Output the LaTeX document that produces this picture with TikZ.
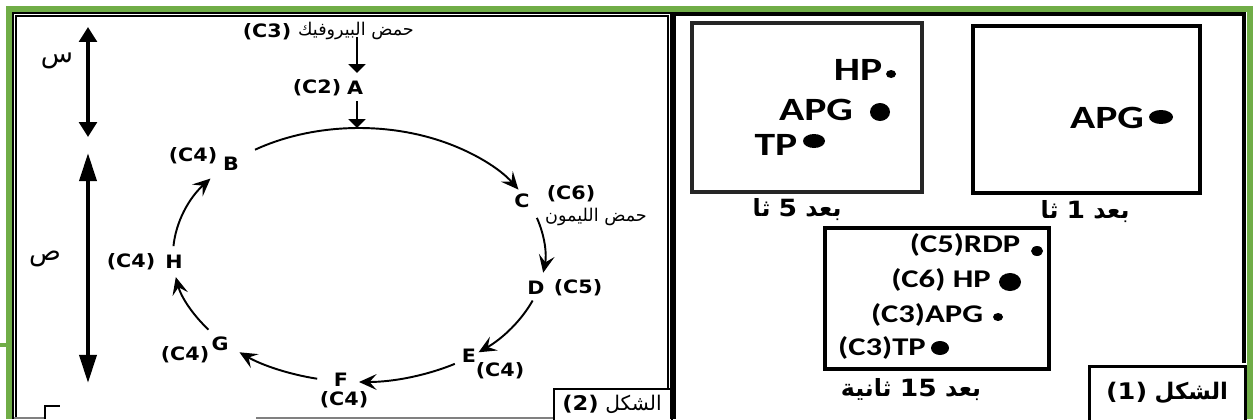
\documentclass[tikz,border=0pt]{standalone}
\usepackage{fontspec}
\usetikzlibrary{arrows.meta}
\TeXXeTstate=1
\newfontfamily\arf[Script=Arabic]{DejaVu Sans}
\newfontfamily\djf[FakeStretch=1.12]{DejaVu Sans}
\newfontfamily\calf[FakeStretch=1.28]{Carlito}
\definecolor{frgreen}{RGB}{112,173,71}
\begin{document}
\begin{tikzpicture}[x=0.02cm,y=-0.02cm,
  lab/.style={font=\djf\bfseries\fontsize{10.5}{12}\selectfont, inner sep=0pt},
  arlab/.style={font=\arf\fontsize{10}{12}\selectfont, inner sep=0pt},
  biglab/.style={font=\arf\fontsize{15}{17}\selectfont, inner sep=0pt},
  spotlab/.style={font=\calf\bfseries\fontsize{18.5}{20}\selectfont, inner sep=0pt},
  spotslab/.style={font=\calf\bfseries\fontsize{14.5}{16}\selectfont, inner sep=0pt},
  caplab/.style={font=\arf\bfseries\fontsize{13.5}{15}\selectfont, inner sep=0pt},
  cyc/.style={line width=1.1pt, -{Stealth[length=10pt,width=9pt,inset=4pt]}},
  sarr/.style={line width=1.5pt, -{Triangle[length=5pt,width=9.5pt]}},
  dbl/.style={line width=2.3pt, {Triangle[length=8.5pt,width=10pt]}-{Triangle[length=8.5pt,width=10pt]}},
  dbll/.style={line width=2.3pt, {Triangle[length=16pt,width=9.6pt]}-{Triangle[length=16pt,width=9.6pt]}},
  rframe/.style={line width=1.8pt},
  blob/.style={fill=black}
]
\useasboundingbox (0,0) rectangle (1256,419);
% green outer frame
\draw[frgreen, line width=3.4pt] (9,419) -- (9,9) -- (1250,9) -- (1250,419);
\draw[frgreen, line width=2pt] (0,345) -- (10,345);
% left panel double frame
\draw[line width=0.6pt] (13,419) -- (13,13) -- (671,13) -- (671,419);
\draw[line width=0.6pt] (16,419) -- (16,16) -- (668,16) -- (668,388);
\draw[gray, line width=0.8pt] (14,418) -- (44,418);
\draw[line width=1.2pt] (45,419) -- (45,406) -- (60,406);
\draw[gray, line width=0.8pt] (256,418) -- (553,418);
% right panel frame
\draw[rframe] (674,419) -- (674,14) -- (1244,14) -- (1244,363);
% figure labels
\node[draw, line width=1.2pt, minimum width=118*0.02cm, minimum height=32*0.02cm, anchor=north west, inner sep=0pt] (fig2) at (553,388) {};
\node[font=\fontsize{11.5}{13}\selectfont, inner sep=0pt] (fig2t) at (612,404) {{\djf\bfseries(2)}~{\arf\beginR الشكل\endR}};
\node[draw, line width=1.8pt, minimum width=156*0.02cm, minimum height=56*0.02cm, anchor=north west, inner sep=0pt] (fig1) at (1088,365) {};
\node[font=\fontsize{13}{15}\selectfont, inner sep=0pt] (fig1t) at (1167,393) {{\djf\bfseries(1)}~{\arf\bfseries\beginR الشكل\endR}};

% ---- Figure 2 ----
\node[biglab] (sin) at (57,61) {\beginR س\endR};
\node[biglab] (sad) at (45,259) {\beginR ص\endR};
\coordinate (s1) at (88,27); \coordinate (s2) at (88,137);
\coordinate (p1) at (88,153); \coordinate (p2) at (88,383);
\draw[dbl] (s1) -- (s2);
\draw[dbll] (p1) -- (p2);

\node[lab] (pyrc) at (267,32) {(C3)};
\node[arlab] (pyr) at (356,31) {\beginR حمض البيروفيك\endR};
\node[lab] (A) at (355,88) {A};
\node[lab] (Ac) at (317,88) {(C2)};
\coordinate (a0) at (357,37); \coordinate (a1) at (357,73);
\coordinate (a2) at (357,101); \coordinate (a3) at (357,128);
\draw[sarr] (a0) -- (a1);
\draw[sarr] (a2) -- (a3);

\node[lab] (B) at (231,164) {B};
\node[lab] (Bc) at (193,156) {(C4)};
\node[lab] (C) at (522,201) {C};
\node[lab] (Cc) at (571,194) {(C6)};
\node[arlab] (cit) at (596,217) {\beginR حمض الليمون\endR};
\node[lab] (D) at (536,288) {D};
\node[lab] (Dc) at (578,288) {(C5)};
\node[lab] (E) at (469,356) {E};
\node[lab] (Ec) at (500,371) {(C4)};
\node[lab] (F) at (341,380) {F};
\node[lab] (Fc) at (344,400) {(C4)};
\node[lab] (G) at (220,344) {G};
\node[lab] (Gc) at (185,355) {(C4)};
\node[lab] (H) at (174,262) {H};
\node[lab] (Hc) at (131,262) {(C4)};

\coordinate (O) at (359,255);
\draw[cyc] (O) ++(-124:186 and 127) arc[start angle=-124, end angle=-31, x radius=186, y radius=127];
\draw[cyc] (O) ++(-17:186 and 127) arc[start angle=-17, end angle=8, x radius=186, y radius=127];
\draw[cyc] (O) ++(21:186 and 127) arc[start angle=21, end angle=50, x radius=186, y radius=127];
\draw[cyc] (O) ++(59:186 and 127) arc[start angle=59, end angle=90, x radius=186, y radius=127];
\draw[cyc] (O) ++(103:186 and 127) arc[start angle=103, end angle=130, x radius=186, y radius=127];
\draw[cyc] (O) ++(144:186 and 127) arc[start angle=144, end angle=170, x radius=186, y radius=127];
\draw[cyc] (O) ++(184:186 and 127) arc[start angle=184, end angle=217, x radius=186, y radius=127];

% ---- Figure 1 ----
\draw[line width=1.8pt, black!85] (692,23) rectangle (922,192);
\node[spotlab] (hp5) at (858,70) {HP};
\fill[blob] (891,74) ellipse [x radius=5, y radius=4];
\node[spotlab] (apg5) at (816,110) {APG};
\fill[blob] (880,112) ellipse [x radius=10, y radius=9];
\node[spotlab] (tp5) at (776,145) {TP};
\fill[blob] (814,141) ellipse [x radius=11, y radius=7];
\node[caplab] (t5) at (797,210) {\beginR بعد {\djf\bfseries 5} ثا\endR};

\draw[line width=1.8pt] (973,26) rectangle (1200,193);
\node[spotlab] (apg1) at (1107,118) {APG};
\fill[blob] (1161,117) ellipse [x radius=12, y radius=7];
\node[caplab] (t1) at (1085,212) {\beginR بعد {\djf\bfseries 1} ثا\endR};

\draw[line width=1.8pt] (825,228) rectangle (1049,369);
\node[spotslab] (rdp) at (965,245) {(C5)RDP};
\fill[blob] (1037,251) ellipse [x radius=6, y radius=5];
\node[spotslab] (hp15) at (941,280) {(C6) HP};
\fill[blob] (1010,282) ellipse [x radius=11, y radius=9];
\node[spotslab] (apg15) at (927,315) {(C3)APG};
\fill[blob] (998,317) ellipse [x radius=5, y radius=4];
\node[spotslab] (tp15) at (882,348) {(C3)TP};
\fill[blob] (940,348) ellipse [x radius=9, y radius=7];
\node[caplab] (t15) at (911,390) {\beginR بعد {\djf\bfseries 15} ثانية\endR};
\end{tikzpicture}
\end{document}
